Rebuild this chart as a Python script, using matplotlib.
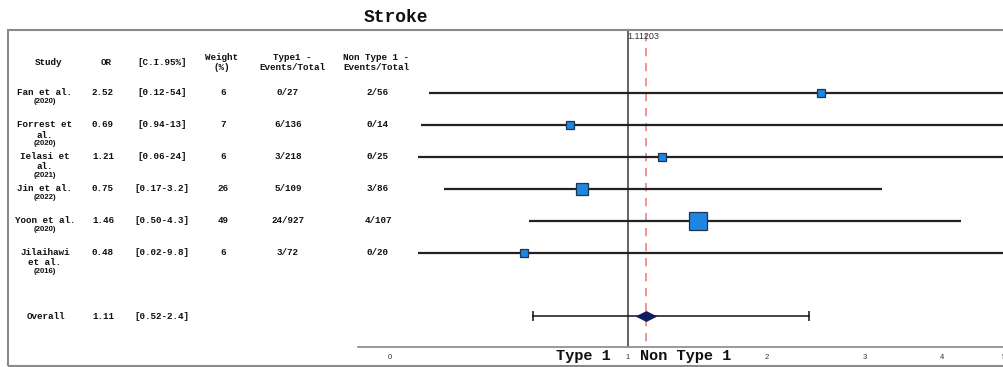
import numpy as np
import matplotlib.pyplot as plt
from matplotlib.patches import Rectangle

# study data
studies = ["Fan et al.", "Forrest et\nal.", "Ielasi et\nal.", "Jin et al.", "Yoon et al.", "Jilaihawi\net al."]
years = ["(2020)", "(2020)", "(2021)", "(2022)", "(2020)", "(2016)"]
odds = [2.52, 0.69, 1.21, 0.75, 1.46, 0.48]
ci_text = ["[0.12-54]", "[0.94-13]", "[0.06-24]", "[0.17-3.2]", "[0.50-4.3]", "[0.02-9.8]"]
ci_low = [0.12, 0.094, 0.06, 0.17, 0.50, 0.02]
ci_high = [54, 13, 24, 3.2, 4.3, 9.8]
weights = [6, 7, 6, 26, 49, 6]
type1 = ["0/27", "6/136", "3/218", "5/109", "24/927", "3/72"]
non_type1 = ["2/56", "0/14", "0/25", "3/86", "4/107", "0/20"]

overall_or = 1.11
overall_exact = 1.11203
overall_ci = (0.52, 2.4)
overall_ci_text = "[0.52-2.4]"

xticks = [0, 1, 2, 3, 4, 5]

mono = "Liberation Mono"
sans = "Liberation Sans"

fig = plt.figure(figsize=(10.04, 3.67), dpi=100)

# row positions (0..5 studies, 7 overall)
rows = np.arange(len(studies))
overall_row = 7
ylim = (7.96, -1.97)

# table axes, pixel x coordinates
ax_t = fig.add_axes([0, 0.0545, 1, 0.8638])
ax_t.set_xlim(0, 1004)
ax_t.set_ylim(*ylim)
ax_t.axis("off")

txt = dict(family=mono, fontsize=6.7, color="#111111", weight="bold")
hdr_y = -0.95
ax_t.text(49, hdr_y, "Study", ha="center", va="center", **txt)
ax_t.text(106, hdr_y, "OR", ha="center", va="center", **txt)
ax_t.text(162, hdr_y, "[C.I.95%]", ha="center", va="center", **txt)
ax_t.text(222, hdr_y, "Weight\n(%)", ha="center", va="center", linespacing=1.15, **txt)
ax_t.text(292, hdr_y, "Type1 -\nEvents/Total", ha="center", va="center", linespacing=1.15, **txt)
ax_t.text(376, hdr_y, "Non Type 1 -\nEvents/Total", ha="center", va="center", linespacing=1.15, **txt)

line_h = 0.32
for i in rows:
    name_lines = studies[i].split("\n")
    for k, ln in enumerate(name_lines):
        ax_t.text(45, i + k * line_h, ln, ha="center", va="center", **txt)
    ax_t.text(45, i + len(name_lines) * line_h - 0.04, years[i], ha="center", va="center",
              family=sans, fontsize=5.6, color="#111111", weight="bold")
    ax_t.text(103, i, f"{odds[i]:.2f}", ha="center", va="center", **txt)
    ax_t.text(162, i, ci_text[i], ha="center", va="center", **txt)
    ax_t.text(223, i, str(weights[i]), ha="center", va="center", **txt)
    ax_t.text(288, i, type1[i], ha="center", va="center", **txt)
    ax_t.text(378, i, non_type1[i], ha="center", va="center", **txt)

ax_t.text(46, overall_row, "Overall", ha="center", va="center", **txt)
ax_t.text(103, overall_row, f"{overall_or:.2f}", ha="center", va="center", **txt)
ax_t.text(162, overall_row, overall_ci_text, ha="center", va="center", **txt)

# forest axes on ln(x+1) scale
ax = fig.add_axes([0.3566, 0.0545, 0.6434, 0.8638])
ax.set_xscale("function", functions=(lambda x: np.log(np.clip(x + 1, 1e-9, None)), lambda y: np.exp(y) - 1))
ax.set_xlim(-0.089, 5.0)
ax.set_ylim(*ylim)
ax.patch.set_alpha(0)
for s in ["top", "left", "right"]:
    ax.spines[s].set_visible(False)
ax.spines["bottom"].set_color("#888888")
ax.spines["bottom"].set_linewidth(1.2)
ax.set_yticks([])
ax.set_xticks(xticks)
ax.set_xticklabels([str(t) for t in xticks], fontsize=5.5, family=sans, color="#333333")
ax.tick_params(axis="x", length=0, pad=5)

clip_lo = 0.085
for i in rows:
    lo = max(ci_low[i], clip_lo)
    ax.plot([lo, ci_high[i]], [i, i], color="#222222", lw=1.6, solid_capstyle="butt", zorder=2)
    ms = (6.6 + 0.233 * weights[i]) / 1.389
    ax.plot(odds[i], i, marker="s", ms=ms, mfc="#1e86e0", mec="#1d3550", mew=0.9, zorder=4)

ax.axvline(1, color="#555555", lw=1.3, zorder=1)
ax.plot([overall_or, overall_or], [-1.88, 7.96], color="#f08080", lw=1.2, ls=(0, (5, 4)), zorder=1)
ax.text(1.0, -1.76, f"{overall_exact:.5f}", ha="left", va="center", family=sans, fontsize=6.5, color="#333333")

ax.plot([overall_ci[0], overall_ci[1]], [overall_row, overall_row], color="#111111", lw=1.1, zorder=2)
ax.plot([overall_ci[0], overall_ci[1]], [overall_row, overall_row], ls="none", marker="|", ms=7, mew=1.1, color="#111111", zorder=2)
diamond = [(-1, 0), (0, 0.5), (1, 0), (0, -0.5), (-1, 0)]
ax.plot(overall_or, overall_row, marker=diamond, ms=14.5, mfc="#0c1e5e", mec="#0c1e5e", mew=0.5, zorder=4)

ax.text(0.76, 8.25, "Type 1", ha="center", va="center", family=mono, fontsize=11, weight="bold", color="#111111", clip_on=False)
ax.text(1.37, 8.25, "Non Type 1", ha="center", va="center", family=mono, fontsize=11, weight="bold", color="#111111", clip_on=False)

# outer frame and title
fig.patches.append(Rectangle((8 / 1004, 1 / 367), 1.0, 336 / 367, transform=fig.transFigure,
                             fill=False, edgecolor="#8a8a8a", lw=1.5, zorder=0))
fig.text(396 / 1004, 1 - 18 / 367, "Stroke", ha="center", va="center", family=mono, fontsize=13, weight="bold", color="#111111")

fig.savefig("out.png", dpi=100)
